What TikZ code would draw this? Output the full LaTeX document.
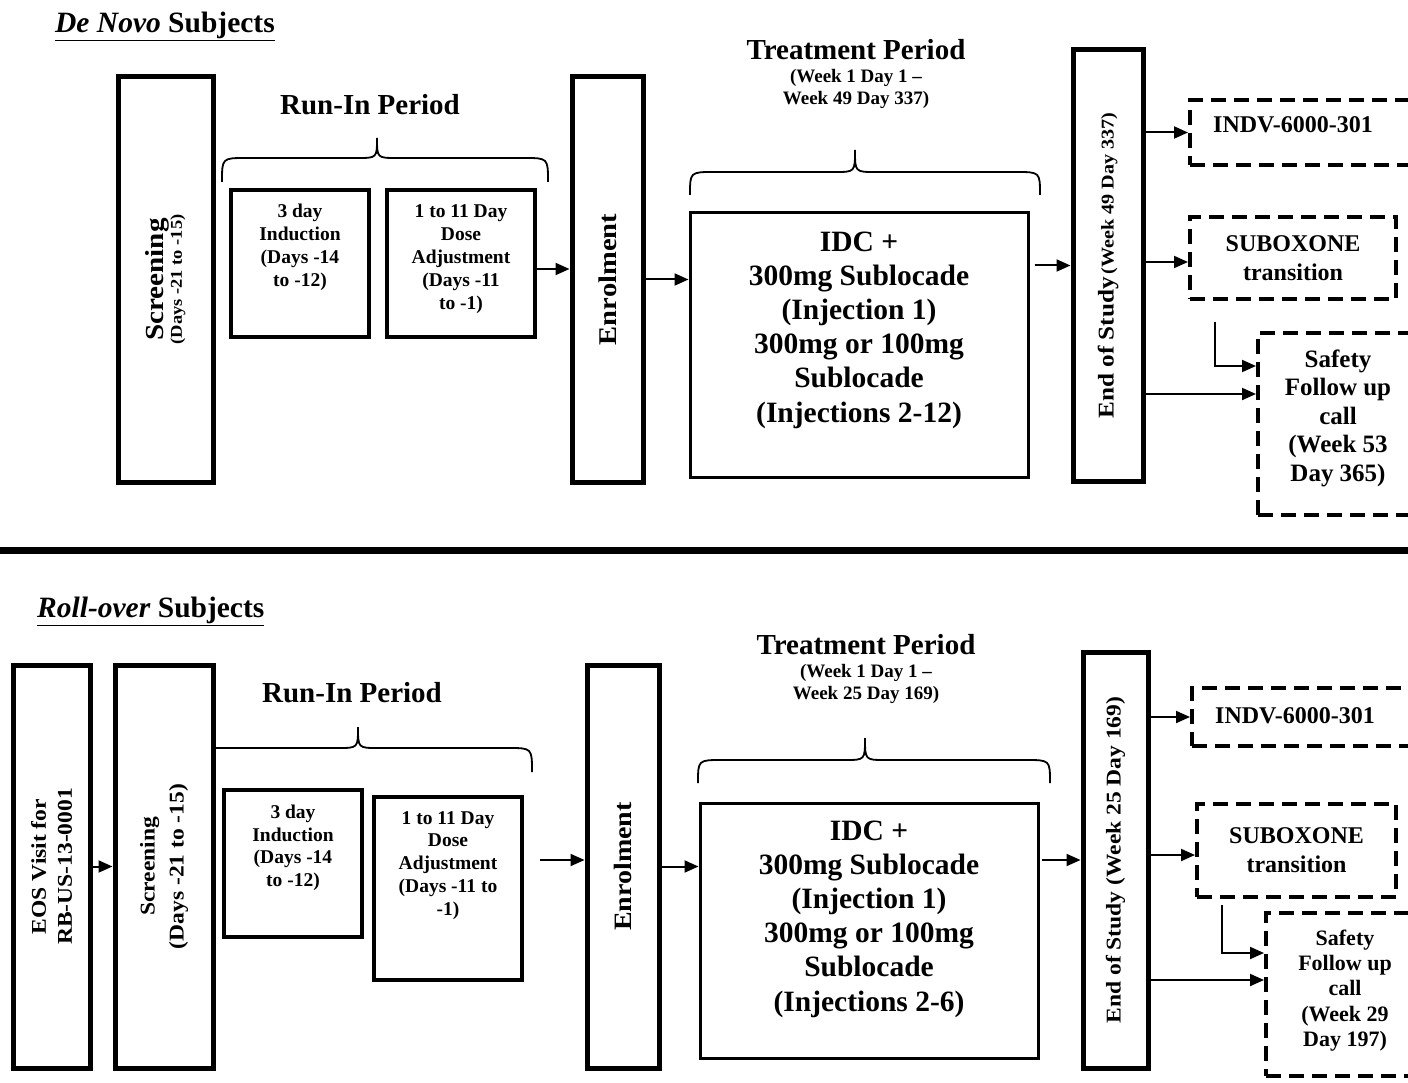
\documentclass[tikz,border=0pt]{standalone}
\usepackage{fontspec}
\setmainfont{Liberation Serif}
\newfontfamily\rotf{Liberation Serif}[FakeStretch=1.12]
\usetikzlibrary{arrows.meta}
\tikzset{
 x=1pt,y=-1pt,
 thickbox/.style={draw,line width=5pt,inner sep=0pt},
 medbox/.style={draw,line width=3.5pt,inner sep=0pt},
 dbox/.style={draw,line width=4pt,dash pattern=on 15pt off 8pt,inner sep=0pt,align=center},
 txt/.style={inner sep=0pt,align=center},
 rtxt/.style={inner sep=0pt,align=center,rotate=90},
 arr/.style={line width=2pt,-{Triangle[length=14pt,width=12pt]}},
 brc/.style={line width=1.8pt},
}
\newcommand\mybrace[6]{\draw[brc] (#1,#6) .. controls (#1,#5) .. (#1+24,#5) -- (#3-20,#5) .. controls (#3,#5) .. (#3,#4) .. controls (#3,#5) .. (#3+20,#5) -- (#2-24,#5) .. controls (#2,#5) .. (#2,#6);}
\begin{document}
\begin{tikzpicture}
\useasboundingbox (0,0) rectangle (1408,1083);
\fill[white] (0,0) rectangle (1408,1083);
\clip (0,0) rectangle (1408,1083);

% ---------------- top: De Novo ----------------
\node[txt,anchor=west,font=\fontsize{29.5}{32}\selectfont\bfseries] (ttl1) at (55,26) {\underline{\textit{De Novo} Subjects}};

\node[thickbox,minimum width=95pt,minimum height=405pt] (scr1) at (165.5,279.5) {};
\node[rtxt,font=\rotf\bfseries] (scr1t) at (scr1.center) {{\fontsize{26}{28}\selectfont Screening}\\{\fontsize{16.5}{25}\selectfont (Days -21 to -15)}};

\node[txt,font=\fontsize{29}{32}\selectfont\bfseries] (run1) at (370,105) {Run-In Period};
\mybrace{222}{548}{377}{138}{158}{182}

\node[medbox,minimum width=138pt,minimum height=147pt] (ind1) at (300,263.5) {};
\node[txt,anchor=north,font=\fontsize{19.5}{23}\selectfont\bfseries] (ind1t) at (300,204) {3 day\\Induction\\(Days -14\\to -12)};
\node[medbox,minimum width=148pt,minimum height=147pt] (dose1) at (461,263.5) {};
\node[txt,anchor=north,font=\fontsize{19.5}{23}\selectfont\bfseries] (dose1t) at (461,204) {1 to 11 Day\\Dose\\Adjustment\\(Days -11\\to -1)};

\node[thickbox,minimum width=71pt,minimum height=405pt] (enr1) at (607.5,279.5) {};
\node[rtxt,font=\rotf\bfseries\fontsize{25.5}{28}\selectfont] (enr1t) at (enr1.center) {Enrolment};

\node[txt,font=\fontsize{29}{32}\selectfont\bfseries] (tp1) at (856,50) {Treatment Period};
\node[txt,font=\fontsize{19}{22}\selectfont\bfseries] (tw1) at (856,89) {(Week 1 Day 1 –\\Week 49 Day 337)};
\mybrace{690}{1040}{855}{150}{172}{195}

\node[medbox,line width=3pt,minimum width=338pt,minimum height=264pt] (idc1) at (859,345) {};
\node[txt,font=\fontsize{29.5}{34.2}\selectfont\bfseries] (idc1t) at (859,330) {IDC +\\300mg Sublocade\\(Injection 1)\\300mg or 100mg\\Sublocade\\(Injections 2-12)};

\node[thickbox,minimum width=70pt,minimum height=431pt] (eos1) at (1108,265.5) {};
\node[rtxt,font=\rotf\bfseries] (eos1t) at (eos1.center) {{\fontsize{22.5}{24}\selectfont End of Study} {\fontsize{18}{24}\selectfont (Week 49 Day 337)}};

\node[dbox,minimum width=250pt,minimum height=65pt] (indv1) at (1315,132.5) {};
\node[txt,font=\fontsize{24}{26}\selectfont\bfseries] (indv1t) at (1293,125) {INDV-6000-301};
\node[dbox,minimum width=206pt,minimum height=82pt,font=\fontsize{24}{29}\selectfont\bfseries] (subx1) at (1293,258) {SUBOXONE\\transition};
\node[dbox,minimum width=182pt,minimum height=182pt] (safe1) at (1349,424) {};
\node[txt,font=\fontsize{25}{28.5}\selectfont\bfseries] (safe1t) at (1338,418) {Safety\\Follow up\\call\\(Week 53\\Day 365)};

\draw[arr] ([yshift=-5.5pt]dose1.east) -- ([yshift=-5.5pt]dose1.east -| enr1.west);
\draw[arr] (enr1.east) -- (enr1.east -| idc1.west);
\draw[arr] ([xshift=5pt]idc1.east |- eos1.west) -- (eos1.west);
\draw[arr] (eos1.east |- indv1.west) -- (indv1.west);
\draw[arr] ([yshift=-4pt]subx1.west -| eos1.east) -- ([yshift=-4pt]subx1.west);
\draw[arr] ([yshift=30pt]safe1.west -| eos1.east) -- ([yshift=30pt]safe1.west);
\coordinate (l1) at (1215,322);
\draw[arr] (l1) |- ([yshift=58pt]safe1.west);

% separator
\coordinate (sepL) at (0,550);
\coordinate (sepR) at (1408,550);
\draw[line width=7pt] (sepL) -- (sepR);

% ---------------- bottom: Roll-over ----------------
\node[txt,anchor=west,font=\fontsize{29.5}{32}\selectfont\bfseries] (ttl2) at (37,611) {\underline{\textit{Roll-over} Subjects}};

\node[thickbox,minimum width=77pt,minimum height=403pt] (eosv) at (51.5,866.5) {};
\node[rtxt,font=\rotf\bfseries\fontsize{21}{26}\selectfont] (eosvt) at (eosv.center) {EOS Visit for\\RB-US-13-0001};
\node[thickbox,minimum width=98pt,minimum height=403pt] (scr2) at (164,866.5) {};
\node[rtxt,font=\rotf\bfseries\fontsize{21}{29}\selectfont] (scr2t) at (scr2.center) {Screening\\(Days -21 to -15)};
\draw[arr] (eosv.east) -- (scr2.west);

\node[txt,font=\fontsize{29}{32}\selectfont\bfseries] (run2) at (352,693) {Run-In Period};
\draw[brc] (213,748) -- (338,748) .. controls (358,748) .. (358,727) .. controls (358,748) .. (378,748) -- (508,748) .. controls (532,748) .. (532,772);

\node[medbox,minimum width=138pt,minimum height=147pt] (ind2) at (293,863.5) {};
\node[txt,anchor=north,font=\fontsize{19.5}{22.5}\selectfont\bfseries] (ind2t) at (293,805) {3 day\\Induction\\(Days -14\\to -12)};
\node[medbox,minimum width=148pt,minimum height=183pt] (dose2) at (448,888.5) {};
\node[txt,anchor=north,font=\fontsize{19.5}{22.8}\selectfont\bfseries] (dose2t) at (448,811) {1 to 11 Day\\Dose\\Adjustment\\(Days -11 to\\-1)};

\node[thickbox,minimum width=72pt,minimum height=403pt] (enr2) at (623,866.5) {};
\node[rtxt,font=\rotf\bfseries\fontsize{25}{28}\selectfont] (enr2t) at (enr2.center) {Enrolment};
\coordinate (fa) at (540,860);
\draw[arr] (fa) -- (fa -| enr2.west);

\node[txt,font=\fontsize{29}{32}\selectfont\bfseries] (tp2) at (866,645) {Treatment Period};
\node[txt,font=\fontsize{19}{22}\selectfont\bfseries] (tw2) at (866,684) {(Week 1 Day 1 –\\Week 25 Day 169)};
\mybrace{698}{1050}{865}{738}{760}{783}

\node[medbox,line width=3pt,minimum width=338pt,minimum height=255pt] (idc2) at (869,930.5) {};
\node[txt,font=\fontsize{29.5}{34.2}\selectfont\bfseries] (idc2t) at (869,919) {IDC +\\300mg Sublocade\\(Injection 1)\\300mg or 100mg\\Sublocade\\(Injections 2-6)};
\draw[arr] (enr2.east) -- (enr2.east -| idc2.west);

\node[thickbox,minimum width=65pt,minimum height=416pt] (eos2) at (1115.5,860) {};
\node[rtxt,font=\rotf\bfseries\fontsize{21}{24}\selectfont] (eos2t) at (eos2.center) {End of Study (Week 25 Day 169)};
\draw[arr] ([xshift=2pt]idc2.east |- eos2.west) -- (eos2.west);

\node[dbox,minimum width=248pt,minimum height=58pt] (indv2) at (1316,717) {};
\node[txt,font=\fontsize{24}{26}\selectfont\bfseries] (indv2t) at (1295,716) {INDV-6000-301};
\node[dbox,minimum width=199pt,minimum height=93pt,font=\fontsize{24}{29}\selectfont\bfseries] (subx2) at (1296.5,850.5) {SUBOXONE\\transition};
\node[dbox,minimum width=174pt,minimum height=163pt] (safe2) at (1353,994.5) {};
\node[txt,font=\fontsize{22}{25.3}\selectfont\bfseries] (safe2t) at (1345,990.5) {Safety\\Follow up\\call\\(Week 29\\Day 197)};

\draw[arr] (eos2.east |- indv2.west) -- (indv2.west);
\draw[arr] ([yshift=-4.5pt]subx2.west -| eos2.east) -- ([yshift=-4.5pt]subx2.west);
\draw[arr] ([yshift=14.5pt]safe2.west -| eos2.east) -- ([yshift=14.5pt]safe2.west);
\coordinate (l2) at (1222,905);
\draw[arr] (l2) |- ([yshift=41.5pt]safe2.west);
\end{tikzpicture}
\end{document}
